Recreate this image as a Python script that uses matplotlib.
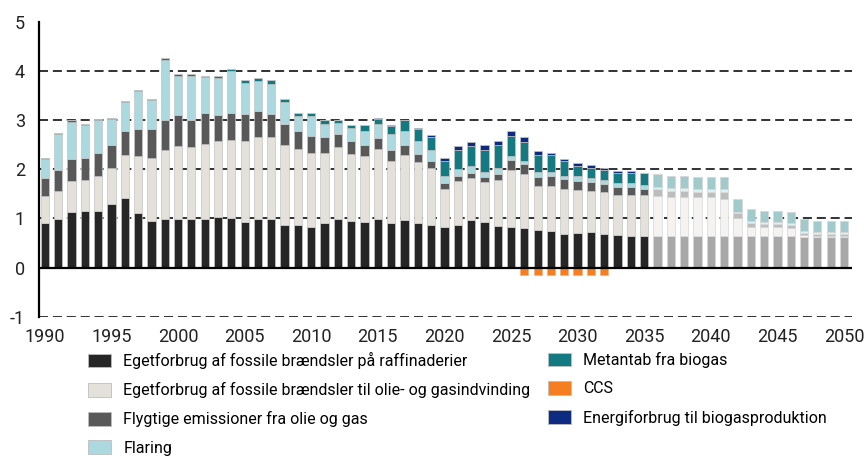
import numpy as np
import matplotlib
matplotlib.use("Agg")
import matplotlib.pyplot as plt
from matplotlib.patches import Patch
from matplotlib.colors import to_rgb

plt.rcParams['font.family'] = ['Roboto', 'DejaVu Sans']
plt.rcParams['lines.scale_dashes'] = False
plt.rcParams['axes.unicode_minus'] = False

years = np.arange(1990, 2051)
last_hist = 2035  # bars after this year are drawn faded

refinery = [0.90, 0.99, 1.14, 1.16, 1.16, 1.29, 1.42, 1.11, 0.95, 0.99,
            0.99, 0.99, 0.98, 1.03, 1.00, 0.93, 0.98, 0.98, 0.87, 0.87,
            0.82, 0.90, 0.98, 0.95, 0.93, 0.99, 0.90, 0.96, 0.90, 0.87,
            0.82, 0.87, 0.96, 0.93, 0.85, 0.82, 0.80, 0.77, 0.74, 0.69,
            0.71, 0.72, 0.69, 0.67, 0.64, 0.64, 0.64, 0.64, 0.64, 0.64,
            0.64, 0.64, 0.64, 0.64, 0.64, 0.64, 0.64, 0.63, 0.63, 0.63, 0.63]
oil_gas = [0.56, 0.57, 0.62, 0.63, 0.71, 0.74, 0.87, 1.16, 1.28, 1.40,
           1.48, 1.46, 1.54, 1.55, 1.60, 1.65, 1.68, 1.68, 1.63, 1.55,
           1.52, 1.44, 1.47, 1.36, 1.34, 1.43, 1.28, 1.33, 1.24, 1.16,
           0.79, 0.90, 0.86, 0.81, 0.94, 1.16, 1.10, 0.89, 0.92, 0.92,
           0.87, 0.83, 0.84, 0.81, 0.84, 0.84, 0.81, 0.80, 0.79, 0.79,
           0.79, 0.76, 0.37, 0.18, 0.18, 0.18, 0.16, 0.03, 0.01, 0.01, 0.01]
fugitive = [0.36, 0.42, 0.45, 0.45, 0.47, 0.47, 0.49, 0.55, 0.59, 0.61,
            0.63, 0.56, 0.63, 0.52, 0.55, 0.55, 0.52, 0.47, 0.42, 0.36,
            0.34, 0.32, 0.26, 0.27, 0.23, 0.21, 0.21, 0.21, 0.17, 0.15,
            0.11, 0.10, 0.11, 0.10, 0.11, 0.21, 0.20, 0.18, 0.21, 0.19,
            0.19, 0.19, 0.18, 0.16, 0.16, 0.13, 0.14, 0.11, 0.12, 0.10,
            0.10, 0.13, 0.10, 0.08, 0.07, 0.07, 0.07, 0.04, 0.04, 0.04, 0.04]
flaring = [0.40, 0.73, 0.76, 0.66, 0.66, 0.52, 0.59, 0.78, 0.60, 1.22,
           0.81, 0.90, 0.73, 0.76, 0.85, 0.63, 0.61, 0.60, 0.45, 0.30,
           0.40, 0.26, 0.24, 0.26, 0.29, 0.30, 0.32, 0.29, 0.27, 0.21,
           0.15, 0.14, 0.13, 0.11, 0.13, 0.08, 0.08, 0.11, 0.08, 0.07,
           0.09, 0.08, 0.08, 0.08, 0.08, 0.08, 0.06, 0.08, 0.08, 0.08,
           0.08, 0.06, 0.03, 0.05, 0.04, 0.04, 0.03, 0.05, 0.04, 0.04, 0.04]
metantab = [0.02, 0.02, 0.03, 0.02, 0.02, 0.02, 0.02, 0.02, 0.02, 0.05,
            0.03, 0.03, 0.03, 0.04, 0.04, 0.05, 0.07, 0.08, 0.07, 0.07,
            0.07, 0.08, 0.06, 0.07, 0.11, 0.10, 0.18, 0.21, 0.24, 0.26,
            0.30, 0.38, 0.41, 0.44, 0.47, 0.41, 0.37, 0.34, 0.34, 0.29,
            0.20, 0.21, 0.19, 0.21, 0.21, 0.24, 0.25, 0.24, 0.24, 0.23,
            0.23, 0.25, 0.25, 0.24, 0.23, 0.23, 0.24, 0.24, 0.23, 0.23, 0.23]
biogas_energy = [0.0] * 25 + [0.02, 0.02, 0.01, 0.02, 0.05,
                              0.06, 0.08, 0.08, 0.11, 0.08, 0.10, 0.11, 0.08, 0.05, 0.05,
                              0.07, 0.06, 0.05, 0.04, 0.04] + [0.0] * 16
ccs = [0.0] * 36 + [-0.16] * 7 + [0.0] * 18

labels = ['Egetforbrug af fossile brændsler på raffinaderier',
          'Egetforbrug af fossile brændsler til olie- og gasindvinding',
          'Flygtige emissioner fra olie og gas',
          'Flaring',
          'Metantab fra biogas',
          'CCS',
          'Energiforbrug til biogasproduktion']
colors = ['#262626', '#e4e1db', '#595959', '#abd9df', '#127a80', '#f47e20', '#0d2b80']


def faded(c, a=0.4):
    r, g, b = to_rgb(c)
    return (1 - a + a * r, 1 - a + a * g, 1 - a + a * b)


fig = plt.figure(figsize=(8.66, 4.58), dpi=100)
ax = fig.add_axes([39 / 866, 1 - 316.7 / 458, (852 - 39) / 866, (316.7 - 22) / 458])

stack = [refinery, oil_gas, fugitive, flaring, metantab, biogas_energy]
stack_colors = [colors[0], colors[1], colors[2], colors[3], colors[4], colors[6]]
hist = years <= last_hist
w = 0.62
bottom = np.zeros(len(years))
for vals, c in zip(stack, stack_colors):
    vals = np.array(vals)
    ax.bar(years[hist], vals[hist], w, bottom=bottom[hist], color=c,
           edgecolor='#c4c4c4', linewidth=0.5, zorder=2)
    ax.bar(years[~hist], vals[~hist], w, bottom=bottom[~hist], color=faded(c),
           edgecolor='#d8d8d8', linewidth=0.5, zorder=2)
    bottom += vals
ccs_arr = np.array(ccs)
ax.bar(years, ccs_arr, w, color=colors[5], edgecolor='#f0b080', linewidth=0.5, zorder=2)

for y in [-1, 1, 2, 3, 4]:
    ax.axhline(y, color='#222222', lw=1.3, linestyle=(0, (6.5, 3.5)), zorder=1)
ax.axhline(0, color='black', lw=1.6, zorder=3)

ax.set_xlim(1989.56, 2050.6)
ax.set_ylim(-1, 5)
ax.set_xticks(np.arange(1990, 2051, 5))
ax.set_yticks(np.arange(-1, 6, 1))
ax.tick_params(length=0, labelsize=13, colors='#222222')
ax.tick_params(axis='x', pad=8)
ax.tick_params(axis='y', pad=10)
for s in ['top', 'right', 'bottom']:
    ax.spines[s].set_visible(False)
ax.spines['left'].set_linewidth(1.6)
ax.spines['left'].set_color('black')

handles = [Patch(facecolor=c, edgecolor='#bdbdbd', linewidth=0.6) for c in colors]
leg_kw = dict(loc='upper left', frameon=False, fontsize=11.5, handlelength=1.45,
              handleheight=0.95, handletextpad=0.75, labelspacing=0.82,
              borderpad=0, borderaxespad=0)
leg1 = fig.legend(handles[:4], labels[:4], bbox_to_anchor=(88 / 866, 1 - 352 / 458), **leg_kw)
leg2 = fig.legend(handles[4:], labels[4:], bbox_to_anchor=(548 / 866, 1 - 352 / 458), **leg_kw)

fig.savefig('out.png', dpi=100)
